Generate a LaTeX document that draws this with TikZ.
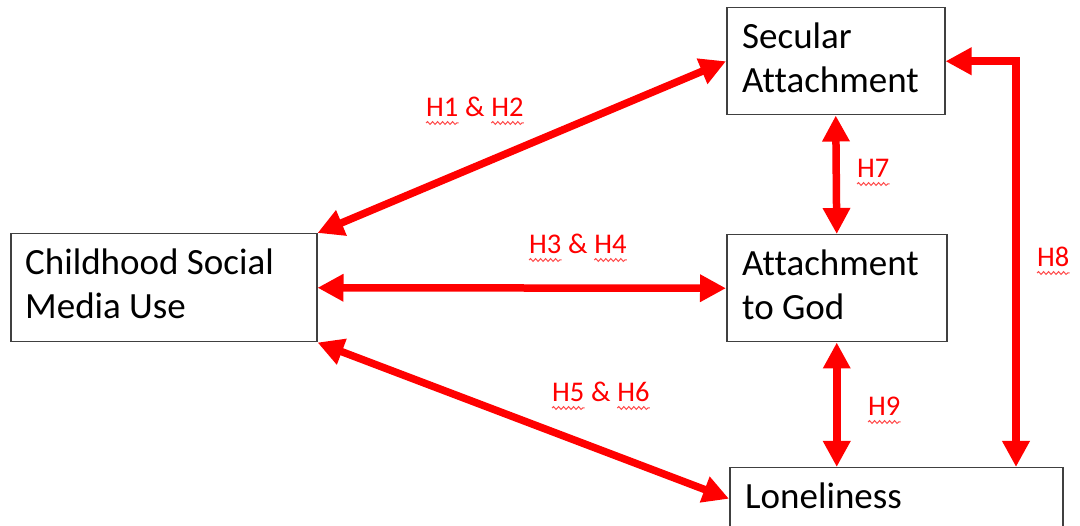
\documentclass[tikz,border=0pt]{standalone}
\usepackage{fontspec}
\setmainfont[Ligatures=NoCommon]{Carlito}
\usetikzlibrary{arrows.meta,calc,decorations.pathmorphing}
\definecolor{boxline}{HTML}{404040}
\definecolor{linkred}{HTML}{FF0000}
\tikzset{
  box/.style={draw=boxline, line width=1.5pt, fill=white, anchor=north west, inner sep=0pt},
  boxtext/.style={anchor=base west, inner sep=0pt, align=left, text=black,
    font=\fontsize{37}{44}\selectfont},
  hyp/.style={anchor=base west, inner sep=0pt, text=linkred,
    font=\fontsize{28.5}{34}\selectfont},
  redtip/.tip={Triangle[length=26pt,width=26pt]},
  link/.style={draw=linkred, line width=7.5pt, redtip-redtip, line join=miter},
  squiggle/.style={draw=linkred!70, line width=1pt, decorate,
    decoration={snake, amplitude=1.4pt, segment length=5pt}},
}
% wavy underline below a word node
\newcommand\wavyunder[1]{\draw[squiggle] ($(#1.base west)+(0,6)$) -- ($(#1.base east)+(0,6)$);}
\begin{document}
\begin{tikzpicture}[x=1pt, y=-1pt]
  \clip (0,0) rectangle (1080,526);
  \fill[white] (0,0) rectangle (1080,526);

  % boxes
  \node[box, minimum width=306pt, minimum height=108pt] (csm) at (10,233) {};
  \node[box, minimum width=218pt, minimum height=107pt] (sec) at (726,7) {};
  \node[box, minimum width=220pt, minimum height=107pt] (god) at (726,234) {};
  \node[box, minimum width=333pt, minimum height=62pt] (lon) at (729,467) {};

  % box texts (base anchor sits on the last line)
  \node[boxtext] (csmt) at ($(csm.north west)+(15,86)$) {Childhood Social\\Media Use};
  \node[boxtext] (sect) at ($(sec.north west)+(16,86)$) {Secular\\Attachment};
  \node[boxtext] (godt) at ($(god.north west)+(16,86)$) {Attachment\\to God};
  \node[boxtext] (lont) at ($(lon.north west)+(16,42)$) {Loneliness};

  % connectors
  \coordinate (h8bend) at (1016,0);
  \draw[link] (csm.north east) -- (sec.west);
  \draw[link] (csm.east) -- (god.west);
  \draw[link] (csm.south east) -- (lon.west);
  \draw[link] (sec.south) -- (god.north);
  \draw[link] (god.south) -- (god.south |- lon.north);
  \draw[link] (sec.east) -- (sec.east -| h8bend) -- (h8bend |- lon.north);

  % hypothesis labels
  \node[hyp] (h1) at (426,117) {H1};
  \node[hyp] (a12) at ($(h1.base east)+(6.4,0)$) {\&};
  \node[hyp] (h2) at ($(a12.base east)+(6.4,0)$) {H2};
  \node[hyp] (h3) at (529,254) {H3};
  \node[hyp] (a34) at ($(h3.base east)+(6.4,0)$) {\&};
  \node[hyp] (h4) at ($(a34.base east)+(6.4,0)$) {H4};
  \node[hyp] (h5) at (552,402) {H5};
  \node[hyp] (a56) at ($(h5.base east)+(6.4,0)$) {\&};
  \node[hyp] (h6) at ($(a56.base east)+(6.4,0)$) {H6};
  \node[hyp] (h7) at (857,178) {H7};
  \node[hyp] (h8) at (1037,267) {H8};
  \node[hyp] (h9) at (868,416) {H9};
  \foreach \w in {h1,h2,h3,h4,h5,h6,h7,h8,h9} {\wavyunder{\w}}
\end{tikzpicture}
\end{document}
